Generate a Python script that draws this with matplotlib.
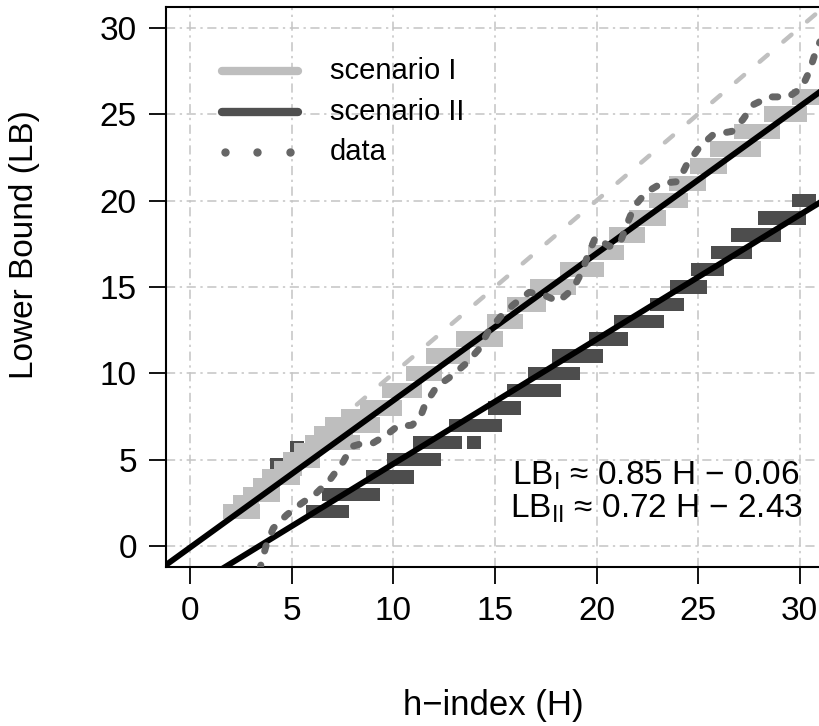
import numpy as np
import matplotlib
matplotlib.use('Agg')
import matplotlib.pyplot as plt

plt.rcParams['font.family'] = ['Liberation Sans', 'DejaVu Sans']
plt.rcParams['mathtext.fontset'] = 'custom'
plt.rcParams['mathtext.rm'] = 'Liberation Sans'
plt.rcParams['mathtext.it'] = 'Liberation Sans'
plt.rcParams['font.size'] = 24

# scenario I steps (light grey): lower bound level, H start, H end
light_lb = [2, 2.5, 3, 3.5, 4, 4.5, 5, 5.5, 6, 6.5, 7, 7.5, 8, 9, 10, 11, 12, 13,
            14, 15, 16, 17, 18, 19, 20, 21, 22, 23, 24, 25, 26]
light_start = [1.6, 2.1, 2.58, 3.1, 3.55, 4.1, 4.56, 5.1, 5.64, 6.1, 6.63, 7.4, 8.35,
               9.42, 10.6, 11.6, 13.08, 14.62, 15.6, 16.7, 18.2, 19.6, 20.6, 21.6,
               22.6, 23.57, 24.6, 25.6, 26.77, 28.25, 29.6]
light_end = [3.42, 3.4, 4.4, 4.4, 5.4, 5.5, 6.38, 6.4, 8.35, 8.0, 9.33, 9.0, 10.4,
             11.39, 12.37, 13.77, 15.38, 16.37, 17.5, 19.0, 20.35, 21.35, 22.4, 23.4,
             24.5, 25.4, 26.4, 28.1, 29.04, 30.35, 31.3]

# scenario II steps (dark grey)
dark_lb = [2, 3, 4, 4.7, 5, 5.7, 6, 6, 7, 8, 9, 10, 11, 12, 13, 14, 15, 16, 17, 18, 19, 20]
dark_start = [5.69, 6.48, 8.65, 3.9, 9.7, 4.9, 10.98, 13.64, 12.73, 14.64, 15.6, 16.63,
              17.8, 19.63, 20.86, 22.64, 23.62, 24.66, 25.64, 26.6, 27.95, 29.6]
dark_end = [7.79, 9.34, 11.0, 4.6, 12.34, 5.6, 13.36, 14.3, 15.33, 16.3, 18.25, 19.19,
            20.3, 21.55, 23.33, 24.3, 25.43, 26.3, 27.65, 29.1, 30.3, 30.8]

# observed data curve
data_h = [3.4, 3.72, 4.08, 4.74, 5.48, 6.2, 6.87, 7.53, 7.94, 8.5, 9.0, 9.66, 10.2,
          10.9, 11.3, 11.55, 12.13, 12.87, 13.6, 14.18, 14.67, 15.25, 15.9, 16.68,
          17.38, 18.12, 18.83, 19.27, 19.6, 19.95, 20.63, 21.16, 21.49, 21.85, 22.44,
          23.2, 24.03, 24.44, 25.1, 25.75, 26.66, 27.2, 27.72, 28.51, 29.45, 30.1,
          30.48, 30.8, 31.3]
data_lb = [-1.4, 0.0, 1.04, 1.81, 2.49, 3.07, 3.84, 4.9, 5.77, 5.96, 5.98, 6.44, 6.95,
           7.0, 7.4, 8.18, 9.24, 9.86, 10.6, 11.37, 12.43, 13.26, 13.97, 14.69, 14.55,
           14.16, 14.88, 15.85, 16.92, 17.88, 17.35, 17.55, 18.6, 19.66, 20.47, 21.0,
           21.1, 22.08, 23.14, 23.82, 24.0, 24.68, 25.55, 26.0, 26.0, 26.52, 27.48,
           28.64, 30.0]

# fitted lines: slope, intercept
fit_I = (0.85, -0.06)
fit_II = (0.72, -2.43)

ticks = [0, 5, 10, 15, 20, 25, 30]
legend_labels = ['scenario I', 'scenario II', 'data']

fig = plt.figure(figsize=(8.19, 7.26), dpi=100)
ax = fig.add_axes([166 / 819, 159 / 726, 658 / 819, 560 / 726])
ax.set_xlim(-1.2, 31.2)
ax.set_ylim(-1.2, 31.2)

ax.set_xticks(ticks)
ax.set_yticks(ticks)
ax.grid(True, color='#c4c4c4', lw=1.1, linestyle=(0, (6, 3, 1.5, 3)), zorder=0)
ax.set_axisbelow(True)

# y = x reference
ref = np.array([8.2, 31.5])
ax.plot(ref, ref, color='#c0c0c0', lw=3.2, linestyle=(0, (2.4, 4.6)),
        dash_capstyle='round', zorder=1)

ax.barh(dark_lb, np.array(dark_end) - np.array(dark_start), left=dark_start,
        height=0.77, color='#4d4d4d', zorder=2)
ax.barh(light_lb, np.array(light_end) - np.array(light_start), left=light_start,
        height=0.9, color='#bebebe', zorder=3)

hh = np.array([-2, 33])
ax.plot(hh, fit_I[0] * hh + fit_I[1], color='black', lw=4.2, zorder=4)
ax.plot(hh, fit_II[0] * hh + fit_II[1], color='black', lw=4.2, zorder=4)

ax.plot(data_h, data_lb, color='#666666', lw=5, linestyle=(0, (0.8, 2.1)),
        dash_capstyle='round', zorder=5)

# legend drawn inside the plot
ax.plot([1.55, 5.32], [27.48, 27.48], color='#bebebe', lw=6, solid_capstyle='round', zorder=6)
ax.plot([1.55, 5.32], [25.11, 25.11], color='#505050', lw=6, solid_capstyle='round', zorder=6)
ax.plot([1.7, 3.29, 4.9], [22.82] * 3, 'o', color='#666666', ms=5, zorder=6)
for yy, lab in zip([27.48, 25.11, 22.82], legend_labels):
    ax.text(6.87, yy, lab, ha='left', va='center', fontsize=21, zorder=6)

ax.text(22.93, 4.07, r'LB$_{\mathrm{I}}$ ≈ 0.85 H − 0.06', ha='center', va='center',
        fontsize=24, zorder=6)
ax.text(22.93, 2.16, r'LB$_{\mathrm{II}}$ ≈ 0.72 H − 2.43', ha='center', va='center',
        fontsize=24, zorder=6)

for s in ax.spines.values():
    s.set_linewidth(1.5)
ax.tick_params(direction='out', length=12, width=1.3, pad=9, labelsize=24)

fig.text(493 / 819, 1 - 705 / 726, 'h−index (H)', ha='center', va='center', fontsize=25)
fig.text(25 / 819, 1 - 245 / 726, 'Lower Bound (LB)', ha='center', va='center',
         rotation=90, fontsize=24)

fig.savefig('out.png', dpi=100)
